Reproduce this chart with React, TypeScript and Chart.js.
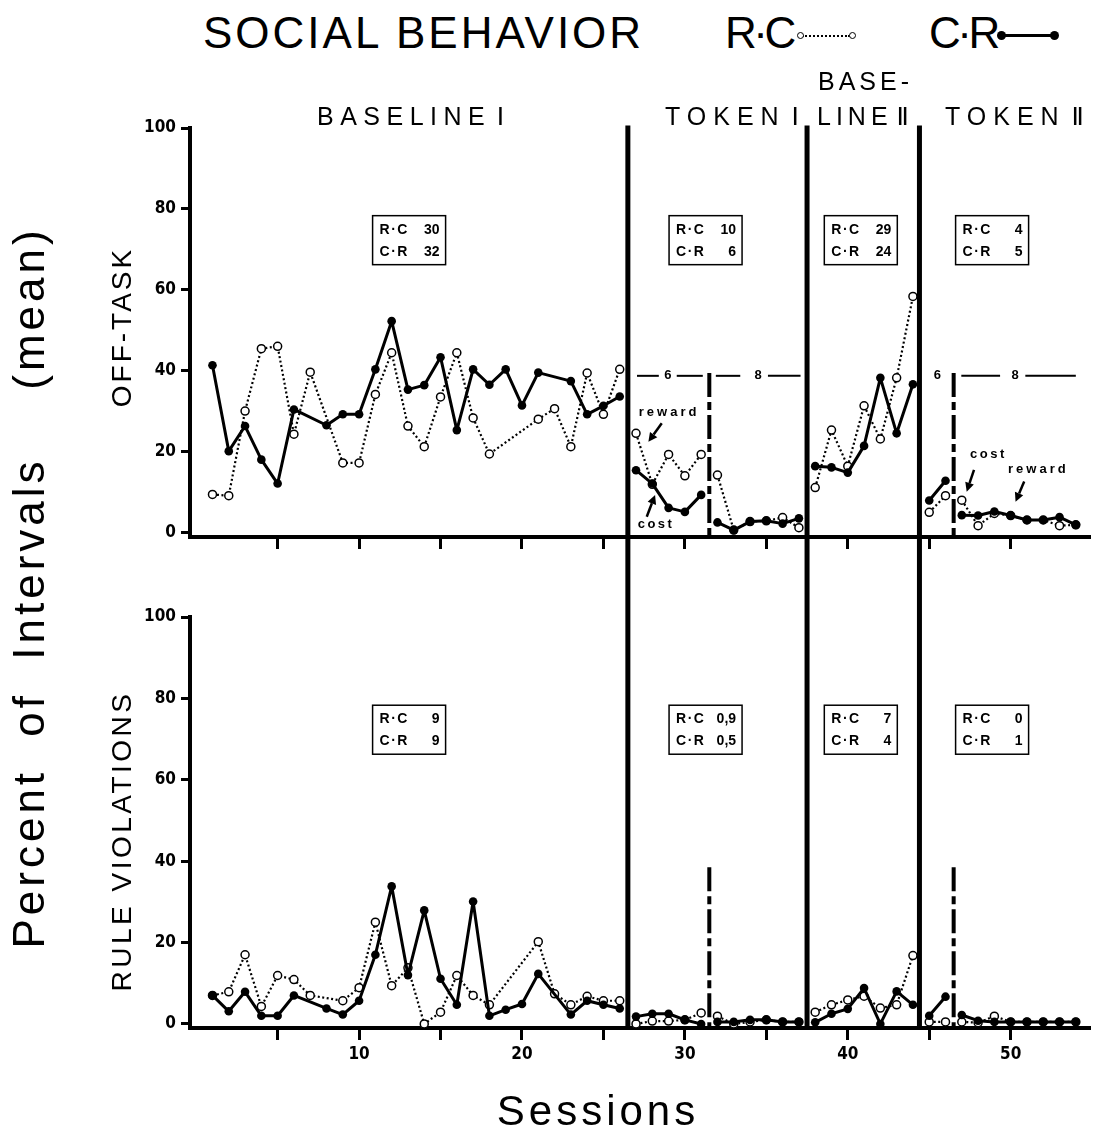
import React, { useEffect, useRef } from "react";
import { Chart, registerables } from "chart.js";

Chart.register(...registerables);

// ---------- data ----------
const SESSIONS = [
  1, 2, 3, 4, 5, 6, 7, 8, 9, 10, 11, 12, 13, 14, 15, 16, 17, 18, 19, 20, 21, 22, 23, 24, 25, 26, 27,
  28, 29, 30, 31, 32, 33, 34, 35, 36, 37, 38, 39, 40, 41, 42, 43, 44, 45, 46, 47, 48, 49, 50, 51, 52, 53, 54,
];

// Off-task, R·C (open circles, dotted)
const OFF_TASK_RC: (number | null)[] = [
  9.5, 9.2, 30.1, 45.5, 46.1, 24.4, 39.7, null, 17.3, 17.3, 34.2, 44.5, 26.4, 21.3, 33.6, 44.5, 28.4, 19.5, null, null, 28.1, 30.7, 21.3, 39.5, 29.3, 40.4,
  24.6, 12, 19.4, 14.1, 19.4,
  14.3, 0.7, 2.8, 3.0, 3.8, 1.3,
  11.2, 25.4, 16.5, 31.4, 23.2, 38.3, 58.4,
  5.1, 9.2,
  8.1, 1.8, 4.8, 4.3, 3.2, 3.2, 1.8, 2.0,
];
// Off-task, C·R (filled circles, solid)
const OFF_TASK_CR: (number | null)[] = [
  41.4, 20.2, 26.4, 18.1, 12.2, 30.5, null, 26.6, 29.3, 29.3, 40.4, 52.3, 35.4, 36.5, 43.4, 25.4, 40.4, 36.6, 40.4, 31.5, 39.6, null, 37.5, 29.3, 31.4, 33.7,
  15.5, 12.2, 6.2, 5.2, 9.4,
  2.6, 0.7, 2.8, 3.0, 2.3, 3.6,
  16.5, 16.2, 14.9, 21.5, 38.3, 24.6, 36.7,
  8.0, 12.9,
  4.4, 4.3, 5.3, 4.3, 3.2, 3.2, 3.9, 2.0,
];
// Rule violations, R·C
const RULE_RC: (number | null)[] = [
  7.0, 7.9, 17.0, 4.3, 11.9, 10.9, 7.0, null, 5.7, 8.9, 25.0, 9.4, 13.8, 0, 2.9, 11.9, 7.0, 4.7, null, null, 20.2, 7.4, 4.7, 6.8, 5.7, 5.7,
  0, 0.7, 0.7, 1.0, 2.7,
  1.9, 0, 0.5, 1.0, 0.5, 0.5,
  2.9, 4.7, 5.9, 6.8, 3.9, 4.7, 16.8,
  0.5, 0.5,
  0.5, 0.3, 1.9, 0.5, 0.5, 0.5, 0.5, 0.5,
];
// Rule violations, C·R
const RULE_CR: (number | null)[] = [
  7.0, 3.1, 7.9, 2.0, 2.0, 7.0, null, 3.8, 2.3, 5.7, 17.0, 33.8, 12.0, 27.9, 11.1, 4.7, 30.1, 2.0, 3.5, 4.9, 12.3, null, 2.3, 5.7, 4.7, 3.8,
  1.8, 2.5, 2.5, 1.0, 0,
  0.5, 0.5, 1.0, 1.0, 0.5, 0.5,
  0.4, 2.5, 3.7, 8.8, 0, 8.0, 4.7,
  2.0, 6.7,
  2.2, 0.8, 0.5, 0.5, 0.5, 0.5, 0.5, 0.5,
];

// phases (first and last session of each unbroken run)
const PHASE_SEGMENTS: [number, number][] = [
  [1, 26], [27, 31], [32, 37], [38, 44], [45, 46], [47, 54],
];
const PHASE_LINES = [26.5, 37.5, 44.4];
const CONDITION_LINES = [31.5, 46.5];

const X_TICK_VALUES = [5, 10, 15, 20, 25, 30, 35, 40, 45, 50];
const X_TICK_LABELS: Record<number, string> = { 10: "10", 20: "20", 30: "30", 40: "40", 50: "50" };
const Y_TICK_VALUES = [0, 20, 40, 60, 80, 100];

// mean boxes
const BOX_RC_TOP = ["30", "10", "29", "4"];
const BOX_CR_TOP = ["32", "6", "24", "5"];
const BOX_RC_BOTTOM = ["9", "0,9", "7", "0"];
const BOX_CR_BOTTOM = ["9", "0,5", "4", "1"];

// ---------- layout constants ----------
const X_MIN = -0.38;
const X_MAX = 54.87;
const BOX_POS: [number, number][] = [[13.07, 72.3], [31.27, 72.3], [40.8, 72.3], [48.86, 72.3]];
const TOP_ARROWS = [
  { from: [28.58, 27.1], to: [27.76, 22.5] },
  { from: [27.66, 4.0], to: [28.17, 9.4] },
  { from: [47.75, 15.6], to: [47.3, 10.2] },
  { from: [50.83, 12.7], to: [50.3, 7.7] },
];
const TOP_WORDS = [
  { text: "reward", at: [29.03, 29.7], sp: 3 },
  { text: "cost", at: [28.23, 2.2], sp: 2.5 },
  { text: "cost", at: [48.63, 19.3], sp: 2.5 },
  { text: "reward", at: [51.7, 15.6], sp: 3 },
];
const RATIO_LEVEL = 38.8;
const RATIO_SEGMENTS: [number, number][] = [[27.06, 28.4], [29.5, 31.1], [31.9, 33.4], [35.1, 37.1], [46.97, 49.35], [50.9, 54.0]];
const RATIO_TEXT: [number, string][] = [[28.96, "6"], [34.5, "8"], [45.5, "6"], [50.27, "8"]];

const NARROW = "'Liberation Sans Narrow', 'DejaVu Sans Condensed', 'Liberation Sans', sans-serif";
const SANS = "'Liberation Sans', 'DejaVu Sans', Arial, sans-serif";

function buildSeries(values: (number | null)[]) {
  const pts: { x: number; y: number | null }[] = [];
  PHASE_SEGMENTS.forEach(([a, b], k) => {
    SESSIONS.forEach((s, i) => {
      const v = values[i];
      if (s >= a && s <= b && v !== null) pts.push({ x: s, y: v });
    });
    if (k < PHASE_SEGMENTS.length - 1) pts.push({ x: b + 0.5, y: null });
  });
  return pts;
}

function drawArrow(ctx: CanvasRenderingContext2D, x1: number, y1: number, x2: number, y2: number) {
  const ang = Math.atan2(y2 - y1, x2 - x1);
  const L = 9;
  const W = 4.5;
  const bx = x2 - L * Math.cos(ang);
  const by = y2 - L * Math.sin(ang);
  ctx.lineWidth = 2.5;
  ctx.beginPath();
  ctx.moveTo(x1, y1);
  ctx.lineTo(bx, by);
  ctx.stroke();
  ctx.beginPath();
  ctx.moveTo(x2, y2);
  ctx.lineTo(bx + W * Math.sin(ang), by - W * Math.cos(ang));
  ctx.lineTo(bx - W * Math.sin(ang), by + W * Math.cos(ang));
  ctx.closePath();
  ctx.fill();
}

function makeDeco(isTop: boolean) {
  return {
    id: "deco",
    beforeDatasetsDraw(chart: any) {
      const { ctx, chartArea } = chart;
      const xs = chart.scales.x;
      const ys = chart.scales.y;
      ctx.save();
      ctx.strokeStyle = "#000";
      ctx.fillStyle = "#000";
      ctx.lineCap = "butt";
      ctx.lineWidth = 5;
      PHASE_LINES.forEach((v) => {
        const px = xs.getPixelForValue(v);
        const y0 = isTop ? ys.getPixelForValue(100.6) : 0;
        const y1 = isTop ? chart.height : chartArea.bottom + 2;
        ctx.beginPath();
        ctx.moveTo(px, y0);
        ctx.lineTo(px, y1);
        ctx.stroke();
      });
      ctx.lineWidth = 4;
      ctx.setLineDash([24, 5, 8, 5]);
      CONDITION_LINES.forEach((v) => {
        const px = xs.getPixelForValue(v);
        ctx.beginPath();
        ctx.moveTo(px, ys.getPixelForValue(isTop ? 39.5 : 38.5));
        ctx.lineTo(px, chartArea.bottom);
        ctx.stroke();
      });
      ctx.setLineDash([]);
      ctx.restore();
    },
    afterDatasetsDraw(chart: any) {
      const { ctx } = chart;
      const xs = chart.scales.x;
      const ys = chart.scales.y;
      const rc = isTop ? BOX_RC_TOP : BOX_RC_BOTTOM;
      const cr = isTop ? BOX_CR_TOP : BOX_CR_BOTTOM;
      ctx.save();
      ctx.strokeStyle = "#000";
      ctx.fillStyle = "#000";
      // boxes
      BOX_POS.forEach(([sx, sy], i) => {
        const cx = xs.getPixelForValue(sx);
        const cy = ys.getPixelForValue(sy);
        const w = 73;
        const h = 49;
        const l = cx - w / 2;
        const t = cy - h / 2;
        ctx.fillStyle = "#fff";
        ctx.fillRect(l, t, w, h);
        ctx.fillStyle = "#000";
        ctx.lineWidth = 1.5;
        ctx.strokeRect(l, t, w, h);
        ctx.font = `bold 14px ${SANS}`;
        (ctx as any).letterSpacing = "1.5px";
        ctx.textBaseline = "middle";
        ctx.textAlign = "left";
        ctx.fillText("R·C", l + 7, t + 14);
        ctx.fillText("C·R", l + 7, t + 36);
        (ctx as any).letterSpacing = "0px";
        ctx.textAlign = "right";
        ctx.fillText(rc[i], l + w - 6, t + 14);
        ctx.fillText(cr[i], l + w - 6, t + 36);
      });
      if (isTop) {
        // token ratio lines
        const ry = ys.getPixelForValue(RATIO_LEVEL);
        ctx.lineWidth = 2;
        RATIO_SEGMENTS.forEach(([a, b]) => {
          ctx.beginPath();
          ctx.moveTo(xs.getPixelForValue(a), ry);
          ctx.lineTo(xs.getPixelForValue(b), ry);
          ctx.stroke();
        });
        ctx.font = `bold 13px ${SANS}`;
        ctx.textAlign = "center";
        ctx.textBaseline = "middle";
        RATIO_TEXT.forEach(([x, t]) => ctx.fillText(t, xs.getPixelForValue(x), ry));
        // arrows and words
        TOP_ARROWS.forEach((a) => {
          drawArrow(
            ctx,
            xs.getPixelForValue(a.from[0]), ys.getPixelForValue(a.from[1]),
            xs.getPixelForValue(a.to[0]), ys.getPixelForValue(a.to[1]),
          );
        });
        ctx.font = `bold 13px ${SANS}`;
        TOP_WORDS.forEach((w) => {
          (ctx as any).letterSpacing = `${w.sp}px`;
          ctx.fillText(w.text, xs.getPixelForValue(w.at[0]), ys.getPixelForValue(w.at[1]));
        });
        (ctx as any).letterSpacing = "0px";
      }
      ctx.restore();
    },
  };
}

function makeChart(canvas: HTMLCanvasElement, isTop: boolean) {
  const rc = isTop ? OFF_TASK_RC : RULE_RC;
  const cr = isTop ? OFF_TASK_CR : RULE_CR;
  return new Chart(canvas, {
    type: "line",
    data: {
      datasets: [
        {
          label: "C·R",
          data: buildSeries(cr) as any,
          borderColor: "#000",
          borderWidth: 3,
          borderJoinStyle: "round",
          pointRadius: 4.3,
          pointBackgroundColor: "#000",
          pointBorderColor: "#000",
          pointBorderWidth: 0,
          tension: 0,
          clip: false as any,
        },
        {
          label: "R·C",
          data: buildSeries(rc) as any,
          borderColor: "#000",
          borderWidth: 2.2,
          borderDash: [2, 2.5],
          borderJoinStyle: "round",
          pointRadius: 4,
          pointBackgroundColor: "#fff",
          pointBorderColor: "#000",
          pointBorderWidth: 1.5,
          tension: 0,
          clip: false as any,
        },
      ],
    },
    options: {
      animation: false,
      responsive: false,
      maintainAspectRatio: false,
      events: [],
      layout: { padding: { top: isTop ? 28 : 42, right: 18, left: 0, bottom: 0 } },
      plugins: { legend: { display: false }, tooltip: { enabled: false } },
      scales: {
        x: {
          type: "linear",
          min: X_MIN,
          max: X_MAX,
          afterBuildTicks: (s: any) => {
            s.ticks = X_TICK_VALUES.map((v) => ({ value: v }));
          },
          afterFit: (s: any) => {
            s.height = isTop ? 38 : 107;
          },
          grid: { drawOnChartArea: false, drawTicks: true, tickLength: 12, tickWidth: 3, tickColor: "#000" },
          border: { display: true, width: 4, color: "#000" },
          ticks: {
            autoSkip: false,
            maxRotation: 0,
            padding: 4,
            color: isTop ? "rgba(0,0,0,0)" : "#000",
            font: { family: NARROW, size: 17, weight: "bold" },
            callback: (v: any) => X_TICK_LABELS[Number(v)] ?? "",
          },
        },
        y: {
          type: "linear",
          min: -1,
          max: 100,
          afterBuildTicks: (s: any) => {
            s.ticks = Y_TICK_VALUES.map((v) => ({ value: v }));
          },
          afterFit: (s: any) => {
            s.width = 190;
          },
          grid: { drawOnChartArea: false, drawTicks: true, tickLength: 9, tickWidth: 3, tickColor: "#000" },
          border: { display: true, width: 4, color: "#000" },
          ticks: {
            padding: 5,
            color: "#000",
            font: { family: NARROW, size: 17, weight: "bold" },
          },
        },
      },
    },
    plugins: [makeDeco(isTop) as any],
  });
}

const abs = (s: React.CSSProperties): React.CSSProperties => ({ position: "absolute", whiteSpace: "nowrap", lineHeight: 1, ...s });
const rot = (cx: number, cy: number, s: React.CSSProperties): React.CSSProperties =>
  abs({ left: cx, top: cy, transform: "translate(-50%, -50%) rotate(-90deg)", ...s });

export default function App() {
  const topRef = useRef<HTMLCanvasElement>(null);
  const botRef = useRef<HTMLCanvasElement>(null);

  useEffect(() => {
    const a = makeChart(topRef.current!, true);
    const b = makeChart(botRef.current!, false);
    return () => {
      a.destroy();
      b.destroy();
    };
  }, []);

  return (
    <div style={{ position: "absolute", left: 0, top: 0, width: 1108, height: 1135, background: "#fff", color: "#000", fontFamily: SANS, overflow: "hidden" }}>
      <canvas ref={topRef} width={1108} height={475} style={{ position: "absolute", left: 0, top: 100, width: 1108, height: 475 }} />
      <canvas ref={botRef} width={1108} height={560} style={{ position: "absolute", left: 0, top: 575, width: 1108, height: 560 }} />

      {/* title and legend */}
      <div style={abs({ left: 203, top: 11, fontSize: 44, letterSpacing: 3 })}>SOCIAL BEHAVIOR</div>
      <div style={abs({ left: 725, top: 11, fontSize: 44, letterSpacing: -3.5 })}>R·C</div>
      <div style={abs({ left: 802, top: 35, width: 48, height: 0, borderTop: "2px dotted #000" })} />
      <div style={abs({ left: 797, top: 32, width: 5, height: 5, border: "1.5px solid #000", borderRadius: "50%", background: "#fff" })} />
      <div style={abs({ left: 849, top: 32, width: 5, height: 5, border: "1.5px solid #000", borderRadius: "50%", background: "#fff" })} />
      <div style={abs({ left: 929, top: 11, fontSize: 44, letterSpacing: -3.5 })}>C·R</div>
      <div style={abs({ left: 1002, top: 34, width: 52, height: 3, background: "#000" })} />
      <div style={abs({ left: 997, top: 31, width: 9, height: 9, borderRadius: "50%", background: "#000" })} />
      <div style={abs({ left: 1050, top: 31, width: 9, height: 9, borderRadius: "50%", background: "#000" })} />

      {/* phase labels */}
      <div style={abs({ left: 317, top: 104, fontSize: 25, letterSpacing: 6.5, wordSpacing: -8 })}>BASELINE Ⅰ</div>
      <div style={abs({ left: 665, top: 104, fontSize: 25, letterSpacing: 7, wordSpacing: -8 })}>TOKEN Ⅰ</div>
      <div style={abs({ left: 818, top: 69, fontSize: 25, letterSpacing: 4 })}>BASE-</div>
      <div style={abs({ left: 817, top: 104, fontSize: 25, letterSpacing: 5, wordSpacing: -8 })}>LINE Ⅱ</div>
      <div style={abs({ left: 945, top: 104, fontSize: 25, letterSpacing: 7, wordSpacing: -8 })}>TOKEN Ⅱ</div>

      {/* axis titles */}
      <div style={rot(29, 703, { fontSize: 44, letterSpacing: 4, wordSpacing: 16 })}>Percent of Intervals</div>
      <div style={rot(29, 308, { fontSize: 44, letterSpacing: 4 })}>(mean)</div>
      <div style={rot(121.5, 327, { fontSize: 28, letterSpacing: 3 })}>OFF-TASK</div>
      <div style={rot(121.5, 841, { fontSize: 28, letterSpacing: 3.5 })}>RULE VIOLATIONS</div>
      <div style={abs({ left: 598, top: 1111, fontSize: 42, letterSpacing: 4, transform: "translate(-50%, -50%)" })}>Sessions</div>
    </div>
  );
}
